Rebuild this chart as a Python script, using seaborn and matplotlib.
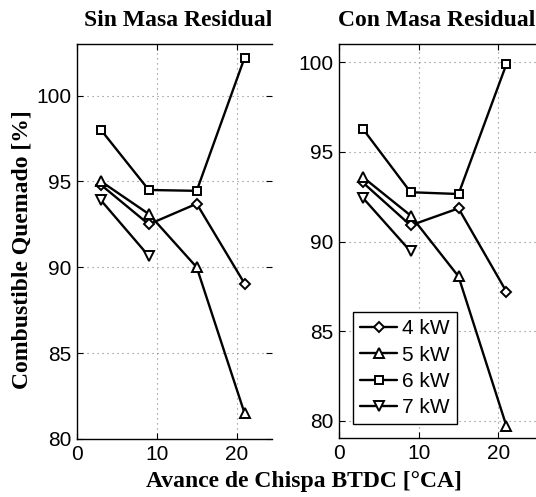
import matplotlib
matplotlib.use("Agg")
import matplotlib.pyplot as plt
import seaborn as sns
import pandas as pd
from matplotlib.transforms import Bbox, TransformedBbox

# ---- data ----
advance = [3, 9, 15, 21]
series_names = ["4 kW", "5 kW", "6 kW", "7 kW"]

sin_4kw = [94.8, 92.5, 93.7, 89.05]
sin_5kw = [95.0, 93.1, 90.0, 81.5]
sin_6kw = [98.0, 94.5, 94.45, 102.2]
sin_7kw = [93.9, 90.65]

con_4kw = [93.3, 90.9, 91.85, 87.2]
con_5kw = [93.6, 91.45, 88.05, 79.7]
con_6kw = [96.3, 92.75, 92.65, 99.9]
con_7kw = [92.45, 89.45]

markers = {"4 kW": "D", "5 kW": "^", "6 kW": "s", "7 kW": "v"}
msizes = {"4 kW": 5.5, "5 kW": 7.5, "6 kW": 5.5, "7 kW": 7.5}


def make_df(vals):
    rows = []
    for name, ys in zip(series_names, vals):
        for x, y in zip(advance, ys):
            rows.append({"x": x, "y": y, "kW": name})
    return pd.DataFrame(rows)


df_sin = make_df([sin_4kw, sin_5kw, sin_6kw, sin_7kw])
df_con = make_df([con_4kw, con_5kw, con_6kw, con_7kw])

sns.set_style("white")
plt.rcParams["font.family"] = ["Liberation Sans", "DejaVu Sans"]
plt.rcParams["text.color"] = "black"
plt.rcParams["axes.labelcolor"] = "black"
plt.rcParams["xtick.color"] = "black"
plt.rcParams["ytick.color"] = "black"

W, H = 536, 497
fig = plt.figure(figsize=(W / 100, H / 100), dpi=100)

ax1 = fig.add_axes([77 / W, 1 - 439 / H, 195.5 / W, (439 - 44) / H])
ax2 = fig.add_axes([338.7 / W, 1 - 438.3 / H, (W - 338.7) / W, (438.3 - 44) / H])

serif_bold = dict(family=["Liberation Serif", "DejaVu Serif"], weight="bold",
                  size=17, color="black")


def draw(ax, df, xlim, ylim, yticks, right_ticks):
    for name in series_names:
        sub = df[df["kW"] == name]
        sns.lineplot(data=sub, x="x", y="y", ax=ax, color="black",
                     marker=markers[name], markersize=msizes[name],
                     markerfacecolor="white", markeredgecolor="black",
                     markeredgewidth=1.4, linewidth=1.7, label=name,
                     legend=False, sort=False)
    ax.set_xlim(*xlim)
    ax.set_ylim(*ylim)
    ax.set_xticks([0, 10, 20])
    ax.set_yticks(yticks)
    ax.set_xlabel("")
    ax.set_ylabel("")
    ax.grid(True, color="#808080", linestyle=(0, (1, 3.5)), linewidth=0.8)
    for s in ["left", "bottom", "top"]:
        ax.spines[s].set_visible(True)
        ax.spines[s].set_color("black")
        ax.spines[s].set_linewidth(1.0)
    ax.spines["right"].set_visible(False)
    ax.tick_params(direction="in", length=4, width=0.8, colors="black",
                   labelsize=15, top=True, right=right_ticks,
                   left=True, bottom=True, pad=4)
    for lab in ax.get_xticklabels() + ax.get_yticklabels():
        lab.set_fontfamily(["Liberation Sans", "DejaVu Sans"])


draw(ax1, df_sin, (0, 24.5), (80, 103), [80, 85, 90, 95, 100], True)
draw(ax2, df_con, (0, 24.7), (79.02, 101.02), [80, 85, 90, 95, 100], False)

# titles
t1 = fig.text(178 / W, 1 - 20 / H, "Sin Masa Residual", ha="center", va="center",
              **serif_bold)
clip = TransformedBbox(Bbox([[0, 0], [271 / W, 1]]), fig.transFigure)
t1.set_clip_box(clip)
t1.set_clip_on(True)
fig.text(437 / W, 1 - 20 / H, "Con Masa Residual", ha="center", va="center",
         **serif_bold)

fig.text(304 / W, 1 - 481 / H, "Avance de Chispa BTDC [°CA]", ha="center",
         va="center", **serif_bold)
fig.text(22 / W, 1 - 250 / H, "Combustible Quemado [%]", ha="center",
         va="center", rotation=90, **serif_bold)

handles, labels = ax2.get_legend_handles_labels()
leg = ax2.legend(handles, labels, loc="upper left",
                 bbox_to_anchor=(353 / W, 1 - 312 / H),
                 bbox_transform=fig.transFigure, frameon=True, fancybox=False,
                 edgecolor="black", framealpha=1, fontsize=15,
                 handlelength=1.75, handletextpad=0.25, labelspacing=0.35,
                 borderpad=0.35, borderaxespad=0)
leg.get_frame().set_linewidth(1.0)
for txt in leg.get_texts():
    txt.set_fontfamily(["Liberation Sans", "DejaVu Sans"])
    txt.set_color("black")

fig.savefig("out.png", dpi=100)
